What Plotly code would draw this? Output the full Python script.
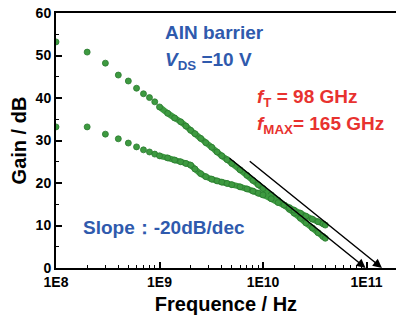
import math
import plotly.graph_objects as go

# Frequency points (GHz)
freq_ghz = [0.1, 0.2, 0.3, 0.4, 0.5, 0.6, 0.7, 0.8, 0.9, 1.0,
            1.2, 1.4, 1.6, 1.8, 2.0, 2.2, 2.5, 2.8, 3.2, 3.6, 4.0, 4.5, 5,
            6, 7, 8, 9, 10, 12, 14, 16, 18, 20, 23, 26, 30, 34, 38, 40]
# MSG/MAG (upper at low frequency)
gain_max = [53.2, 50.8, 48.2, 45.4, 44.0, 42.3, 41.0, 40.1, 39.1, 37.9,
            36.4, 35.3, 34.4, 33.4, 32.4, 31.6, 30.5, 29.5, 28.4, 27.3, 26.4, 25.5, 24.6,
            23.1, 21.8, 20.6, 19.6, 18.7, 17.2, 15.9, 14.8, 13.8, 12.9, 11.7, 10.6, 9.4, 8.3, 7.4, 7.0]
# |h21|^2 (lower at low frequency)
gain_h21 = [33.2, 33.2, 31.5, 30.4, 29.4, 28.5, 27.8, 27.3, 26.8, 26.4,
            25.9, 25.4, 25.0, 24.6, 24.2, 23.3, 22.2, 21.5, 20.9, 20.5, 20.2, 19.9, 19.6,
            19.1, 18.6, 18.1, 17.6, 17.2, 16.3, 15.4, 14.8, 14.2, 13.6, 12.9, 12.2, 11.5, 10.9, 10.4, 10.1]

# slope guide lines (Hz, dB): tail -> head
guide1 = [(4.6e9, 26.1), (9.8e10, 0.0)]
guide2 = [(7.2e9, 25.4), (1.41e11, 0.0)]

x_ticks = [1e8, 1e9, 1e10, 1e11]
x_ticktext = ["1E8", "1E9", "1E10", "1E11"]

freq_hz = [f * 1e9 for f in freq_ghz]

GREEN = "#3d9a40"
GREEN_EDGE = "#2b7a30"
BLUE = "#2f5aad"
RED = "#e8322f"
FONT = "Liberation Sans, Arial, sans-serif"

fig = go.Figure()
dense = [i for i, f in enumerate(freq_ghz) if f >= 1.0]
for g in (gain_max, gain_h21):
    fig.add_trace(go.Scatter(
        x=[freq_hz[i] for i in dense], y=[g[i] for i in dense],
        mode="lines", line=dict(color=GREEN, width=6, shape="spline", smoothing=0.6),
        hoverinfo="skip", showlegend=False))
    fig.add_trace(go.Scatter(
        x=freq_hz, y=g, mode="markers",
        marker=dict(size=6, color=GREEN, line=dict(color=GREEN_EDGE, width=0.8)),
        showlegend=False))

for (t, h) in (guide1, guide2):
    fig.add_annotation(
        x=math.log10(h[0]), y=h[1], ax=math.log10(t[0]), ay=t[1],
        xref="x", yref="y", axref="x", ayref="y", text="",
        showarrow=True, arrowhead=2, arrowsize=1.2, arrowwidth=1.5,
        arrowcolor="black", standoff=0, startstandoff=0)

def txt(s, x, y, color):
    fig.add_annotation(text=s, x=x, y=y, xref="paper", yref="paper",
                       xanchor="left", yanchor="middle", showarrow=False,
                       font=dict(family=FONT, size=19, color=color))

txt("<b>AIN barrier</b>", 0.315, 0.922, BLUE)
txt("<b><i>V</i><sub>DS</sub> =10 V</b>", 0.315, 0.81, BLUE)
txt("<b><i>f</i><sub>T</sub> = 98 GHz</b>", 0.585, 0.665, RED)
txt("<b><i>f</i><sub>MAX</sub>= 165 GHz</b>", 0.585, 0.56, RED)
txt("<b>Slope：-20dB/dec</b>", 0.074, 0.157, BLUE)

fig.update_xaxes(
    type="log", range=[8, 11.285], automargin=False,
    tickvals=x_ticks, ticktext=x_ticktext,
    ticks="inside", ticklen=6, tickwidth=1.5, tickcolor="black",
    minor=dict(ticks="inside", ticklen=3, tickwidth=1.2, tickcolor="black", dtick="D1"),
    showline=True, linecolor="black", linewidth=2, mirror=True,
    showgrid=False, zeroline=False,
    tickfont=dict(family=FONT, size=14, color="black", weight="bold"),
    title=dict(text="<b>Frequence / Hz</b>", font=dict(family=FONT, size=20, color="black"), standoff=8),
)
fig.update_yaxes(
    range=[0, 60], dtick=10, automargin=False,
    ticks="inside", ticklen=6, tickwidth=1.5, tickcolor="black",
    minor=dict(ticks="inside", ticklen=3, tickwidth=1.2, tickcolor="black", dtick=5),
    showline=True, linecolor="black", linewidth=2,
    showgrid=False, zeroline=False,
    tickfont=dict(family=FONT, size=14, color="black", weight="bold"),
    title=dict(text="<b>Gain / dB</b>", font=dict(family=FONT, size=20, color="black"), standoff=4),
)
fig.update_layout(
    width=396, height=322,
    margin=dict(l=56, r=0, t=13, b=54),
    paper_bgcolor="white", plot_bgcolor="white",
)
fig.write_html("out.html", config={"displayModeBar": False},
               post_script="document.body.style.margin='0';")
